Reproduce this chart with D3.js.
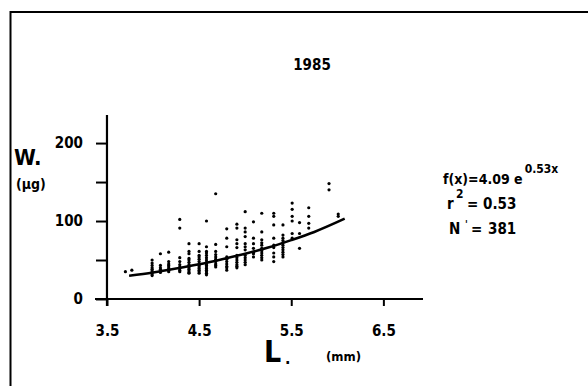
<!DOCTYPE html>
<html>
<head>
<meta charset="utf-8">
<script src="https://cdn.jsdelivr.net/npm/d3@7"></script>
<style>
  html, body { margin: 0; padding: 0; background: #fff; }
  svg { display: block; }
  text { font-family: "DejaVu Sans Condensed", "DejaVu Sans", sans-serif; font-weight: bold; fill: #000; }
</style>
</head>
<body>
<svg id="chart" width="588" height="386"></svg>
<script>
// ---- data ----
const title = "1985";
const xTicks = [3.5, 4.5, 5.5, 6.5];
const xTickLabels = ["3.5", "4.5", "5.5", "6.5"];
const yTicks = [0, 50, 100, 150, 200];
const yTickLabels = ["0", "", "100", "", "200"];

// scatter: body length L (mm) per column, and weights W (µg) observed at that length
const pointL = [3.70, 3.77, 3.99, 4.08, 4.17, 4.29, 4.39, 4.50, 4.58, 4.68, 4.80, 4.91,
                5.00, 5.09, 5.18, 5.31, 5.41, 5.51, 5.59, 5.69, 5.91, 6.01];
const pointW = [
  [35],
  [37],
  [50, 46, 43, 40, 38, 36, 34, 32, 30],
  [58, 43, 40, 38, 36, 34],
  [60, 48, 45, 43, 41, 39, 37, 35],
  [102, 91, 53, 48, 44, 41, 39, 37, 35],
  [71, 61, 58, 52, 50, 47, 44, 42, 40, 38, 36, 34, 33],
  [71, 61, 56, 54, 51, 48, 45, 43, 41, 39, 37, 35, 33],
  [100, 67, 61, 59, 56, 53, 50, 47, 45, 43, 41, 39, 37, 35, 33, 31],
  [135, 70, 61, 57, 54, 51, 48, 45, 43, 41],
  [90, 78, 67, 54, 51, 48, 45, 42, 40, 37],
  [96, 91, 76, 71, 66, 56, 53, 50, 47, 44, 42, 40],
  [112, 91, 86, 80, 71, 67, 63, 56, 53, 50, 47, 44],
  [99, 78, 71, 65, 60, 58, 54],
  [110, 86, 76, 72, 69, 65, 62, 59, 56, 53, 50],
  [110, 106, 95, 78, 69, 66, 59, 54, 48],
  [95, 82, 78, 75, 72, 69, 66, 63, 60, 57, 54],
  [123, 115, 106, 100, 84, 78],
  [98, 84, 65],
  [117, 106, 97, 91],
  [148, 140],
  [109, 106]
];

// fitted curve, points
const curveL = [3.74, 4.0, 4.25, 4.5, 4.75, 5.0, 5.25, 5.5, 5.75, 6.08];
const curveW = [29.7, 34, 39, 44.5, 51, 58, 66, 75.5, 86, 103];

// annotation texts
const fitText = "f(x)=4.09 e";
const fitExp = "0.53x";
const r2Text = "= 0.53";
const nText = "381";

// ---- drawing ----
const svg = d3.select("#chart");

const x = d3.scaleLinear().domain([3.37, 6.93]).range([95, 423]);
const y = d3.scaleLinear().domain([-9, 236]).range([306, 115]);

// frame (left & top)
svg.append("line").attr("x1", 10).attr("x2", 588).attr("y1", 12).attr("y2", 12)
  .attr("stroke", "#000").attr("stroke-width", 2);
svg.append("line").attr("x1", 10.5).attr("x2", 10.5).attr("y1", 11).attr("y2", 386)
  .attr("stroke", "#000").attr("stroke-width", 2);

// x axis
const xAxis = d3.axisBottom(x).tickValues(xTicks)
  .tickFormat((d, i) => xTickLabels[i]).tickSize(7).tickSizeOuter(0).tickPadding(19);
const gx = svg.append("g").attr("transform", `translate(0,${y(0)})`).call(xAxis);
gx.select(".domain").remove();
gx.selectAll(".tick line").attr("stroke", "#000").attr("stroke-width", 2);
gx.selectAll(".tick text").style("font-size", "15px");
svg.append("line").attr("x1", x.range()[0]).attr("x2", x.range()[1])
  .attr("y1", y(0)).attr("y2", y(0)).attr("stroke", "#000").attr("stroke-width", 2.2);

// y axis
const yAxis = d3.axisLeft(y).tickValues(yTicks)
  .tickFormat((d, i) => yTickLabels[i]).tickSize(11).tickSizeOuter(0).tickPadding(13);
const gy = svg.append("g").attr("transform", `translate(${x(3.5)},0)`).call(yAxis);
gy.select(".domain").remove();
gy.selectAll(".tick line").attr("stroke", "#000").attr("stroke-width", 2);
gy.selectAll(".tick text").style("font-size", "15px");
svg.append("line").attr("x1", x(3.5)).attr("x2", x(3.5))
  .attr("y1", y.range()[0]).attr("y2", y.range()[1]).attr("stroke", "#000").attr("stroke-width", 2.2);

// scatter points
const pts = [];
pointL.forEach((L, i) => pointW[i].forEach(W => pts.push({ L, W })));
svg.append("g").selectAll("circle").data(pts).join("circle")
  .attr("cx", d => x(d.L)).attr("cy", d => y(d.W)).attr("r", 1.6).attr("fill", "#000");

// curve
const line = d3.line().x((d, i) => x(curveL[i])).y(d => y(d)).curve(d3.curveMonotoneX);
svg.append("path").datum(curveW).attr("d", line)
  .attr("fill", "none").attr("stroke", "#000").attr("stroke-width", 2.6);

// title
svg.append("text").attr("x", 312).attr("y", 70).attr("text-anchor", "middle")
  .style("font-size", "15px").text(title);

// axis titles
svg.append("text").attr("x", 14).attr("y", 165).style("font-size", "22px").text("W.");
svg.append("text").attr("x", 16).attr("y", 189).style("font-size", "14px").text("(µg)");
svg.append("text").attr("x", 264).attr("y", 362).style("font-size", "30px").text("L");
svg.append("text").attr("x", 285).attr("y", 364).style("font-size", "16px").text(".");
svg.append("text").attr("x", 326).attr("y", 361).style("font-size", "13px").text("(mm)");

// annotations
const fx = svg.append("text").attr("x", 443).attr("y", 184).style("font-size", "14px");
fx.append("tspan").text(fitText);
fx.append("tspan").attr("dx", 2).attr("dy", -11).style("font-size", "12px").text(fitExp);

svg.append("text").attr("x", 447).attr("y", 209).style("font-size", "15px").text("r");
svg.append("text").attr("x", 456).attr("y", 198).style("font-size", "12px").text("2");
svg.append("text").attr("x", 467).attr("y", 209).style("font-size", "15px").text(r2Text);

svg.append("text").attr("x", 449).attr("y", 234).style("font-size", "15px").text("N");
svg.append("text").attr("x", 465).attr("y", 228).style("font-size", "10px").text("'");
svg.append("text").attr("x", 471).attr("y", 234).style("font-size", "15px").text("=");
svg.append("text").attr("x", 488).attr("y", 234).style("font-size", "15px").text(nText);
</script>
</body>
</html>
